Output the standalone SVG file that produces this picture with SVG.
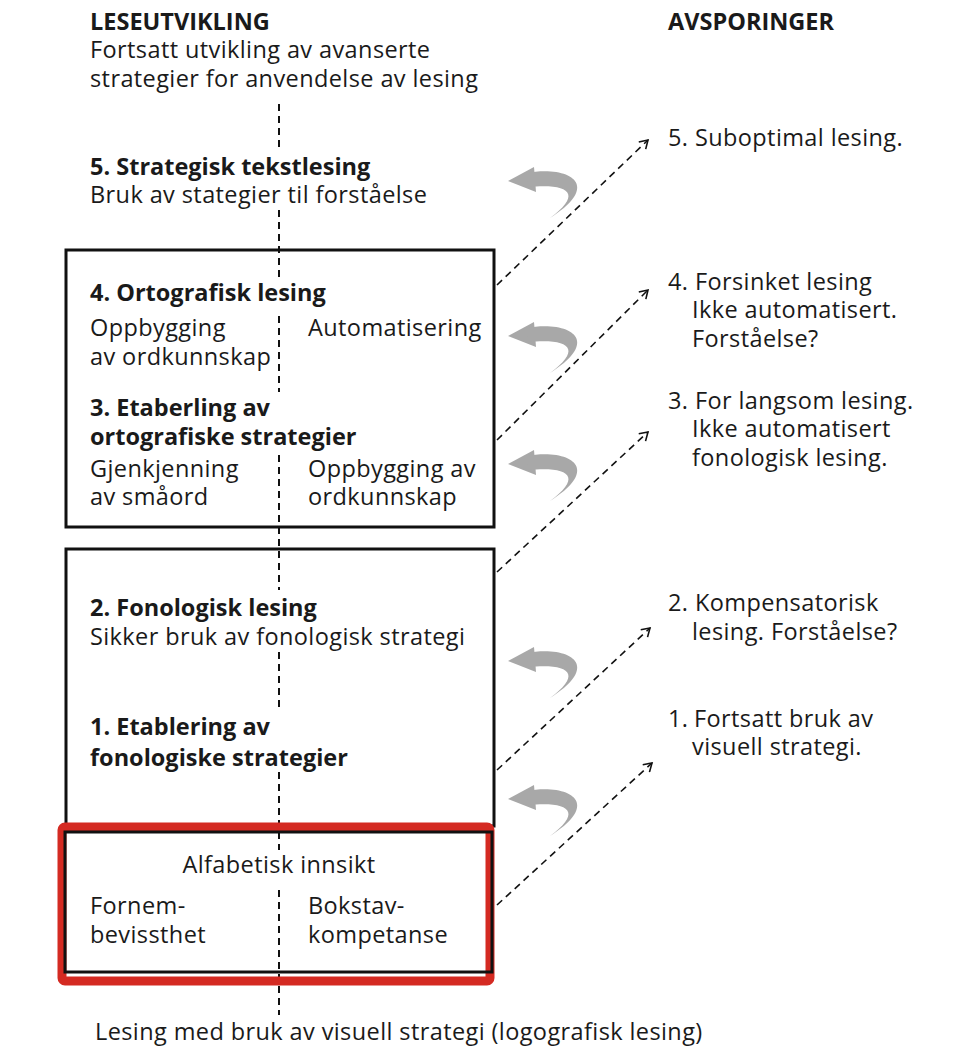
<svg xmlns="http://www.w3.org/2000/svg" width="960" height="1056" viewBox="0 0 960 1056">
<defs>
<style>
text{font-family:"Open Sans","Liberation Sans",sans-serif;font-size:23.5px;letter-spacing:0.4px;fill:#1a1a1a}
.b{font-weight:bold;letter-spacing:0}
.box{fill:none;stroke:#111;stroke-width:3}
.cl{stroke:#111;stroke-width:2;stroke-dasharray:7 5}
.da{stroke:#111;stroke-width:1.6;stroke-dasharray:7 5;fill:none;marker-end:url(#ah)}
.ga{fill:#a8a8a8}
</style>
<marker id="ah" viewBox="0 0 12 12" refX="10" refY="6" markerWidth="12" markerHeight="12" markerUnits="userSpaceOnUse" orient="auto">
<path d="M2,1 L10,6 L2,11" fill="none" stroke="#111" stroke-width="1.6"/>
</marker>
<g id="curl">
<path d="M0,0 L26,-14 L28,11 Z"/>
<path d="M18,-8 C62,-16 95,4 42,37 C76,12 60,2 20,6 Z"/>
</g>
</defs>
<rect width="960" height="1056" fill="#fff"/>
<g id="connectors">
<path class="cl" d="M279,104 V150 M279,210 V282 M279,316 V392 M279,455 V590 M279,652 V712 M279,772 V850 M279,890 V1015"/>
<path class="da" d="M497,285 L648,140"/>
<path class="da" d="M497,440 L648,290"/>
<path class="da" d="M497,572 L648,432"/>
<path class="da" d="M497,770 L650,628"/>
<path class="da" d="M497,905 L652,763"/>
<g class="ga">
<use href="#curl" x="508" y="181"/>
<use href="#curl" x="508" y="336"/>
<use href="#curl" x="508" y="464"/>
<use href="#curl" x="508" y="661"/>
<use href="#curl" x="508" y="799"/>
</g>
</g>
<g id="header-left"><text x="90" y="30" class="b">LESEUTVIKLING</text><text x="90" y="58">Fortsatt utvikling av avanserte</text><text x="90" y="87">strategier for anvendelse av lesing</text></g>
<g id="header-right"><text x="668" y="30" class="b">AVSPORINGER</text></g>
<g id="n5"><text x="90" y="175" class="b">5. Strategisk tekstlesing</text><text x="90" y="203">Bruk av stategier til forståelse</text></g>
<g id="box43"><rect class="box" x="66" y="250" width="428" height="277"/>
<text x="90" y="301" class="b">4. Ortografisk lesing</text>
<text x="90" y="336">Oppbygging</text><text x="90" y="365">av ordkunnskap</text><text x="308" y="336">Automatisering</text>
<text x="90" y="416" class="b">3. Etaberling av</text><text x="90" y="445" class="b">ortografiske strategier</text>
<text x="90" y="477">Gjenkjenning</text><text x="90" y="505">av småord</text><text x="308" y="477">Oppbygging av</text><text x="308" y="505">ordkunnskap</text></g>
<g id="box21"><rect class="box" x="66" y="549" width="428" height="277"/>
<text x="90" y="616" class="b">2. Fonologisk lesing</text><text x="90" y="645">Sikker bruk av fonologisk strategi</text>
<text x="90" y="735" class="b">1. Etablering av</text><text x="90" y="766" class="b">fonologiske strategier</text></g>
<g id="alfa"><rect x="62" y="827" width="428" height="154" rx="3" fill="none" stroke="#d42a22" stroke-width="9"/>
<rect class="box" x="65" y="832" width="427" height="140"/>
<text x="279" y="873" text-anchor="middle">Alfabetisk innsikt</text>
<text x="90" y="914">Fornem-</text><text x="90" y="943">bevissthet</text><text x="308" y="914">Bokstav-</text><text x="308" y="943">kompetanse</text></g>
<g id="bottom"><text x="95" y="1040">Lesing med bruk av visuell strategi (logografisk lesing)</text></g>
<g id="a5"><text x="668" y="146">5. Suboptimal lesing.</text></g>
<g id="a4"><text x="668" y="290">4. Forsinket lesing</text><text x="692" y="318">Ikke automatisert.</text><text x="692" y="347">Forståelse?</text></g>
<g id="a3"><text x="668" y="409">3. For langsom lesing.</text><text x="692" y="437">Ikke automatisert</text><text x="692" y="466">fonologisk lesing.</text></g>
<g id="a2"><text x="668" y="611">2. Kompensatorisk</text><text x="692" y="640">lesing. Forståelse?</text></g>
<g id="a1"><text x="668" y="727">1.</text><text x="694" y="727">Fortsatt bruk av</text><text x="692" y="755">visuell strategi.</text></g>
</svg>
